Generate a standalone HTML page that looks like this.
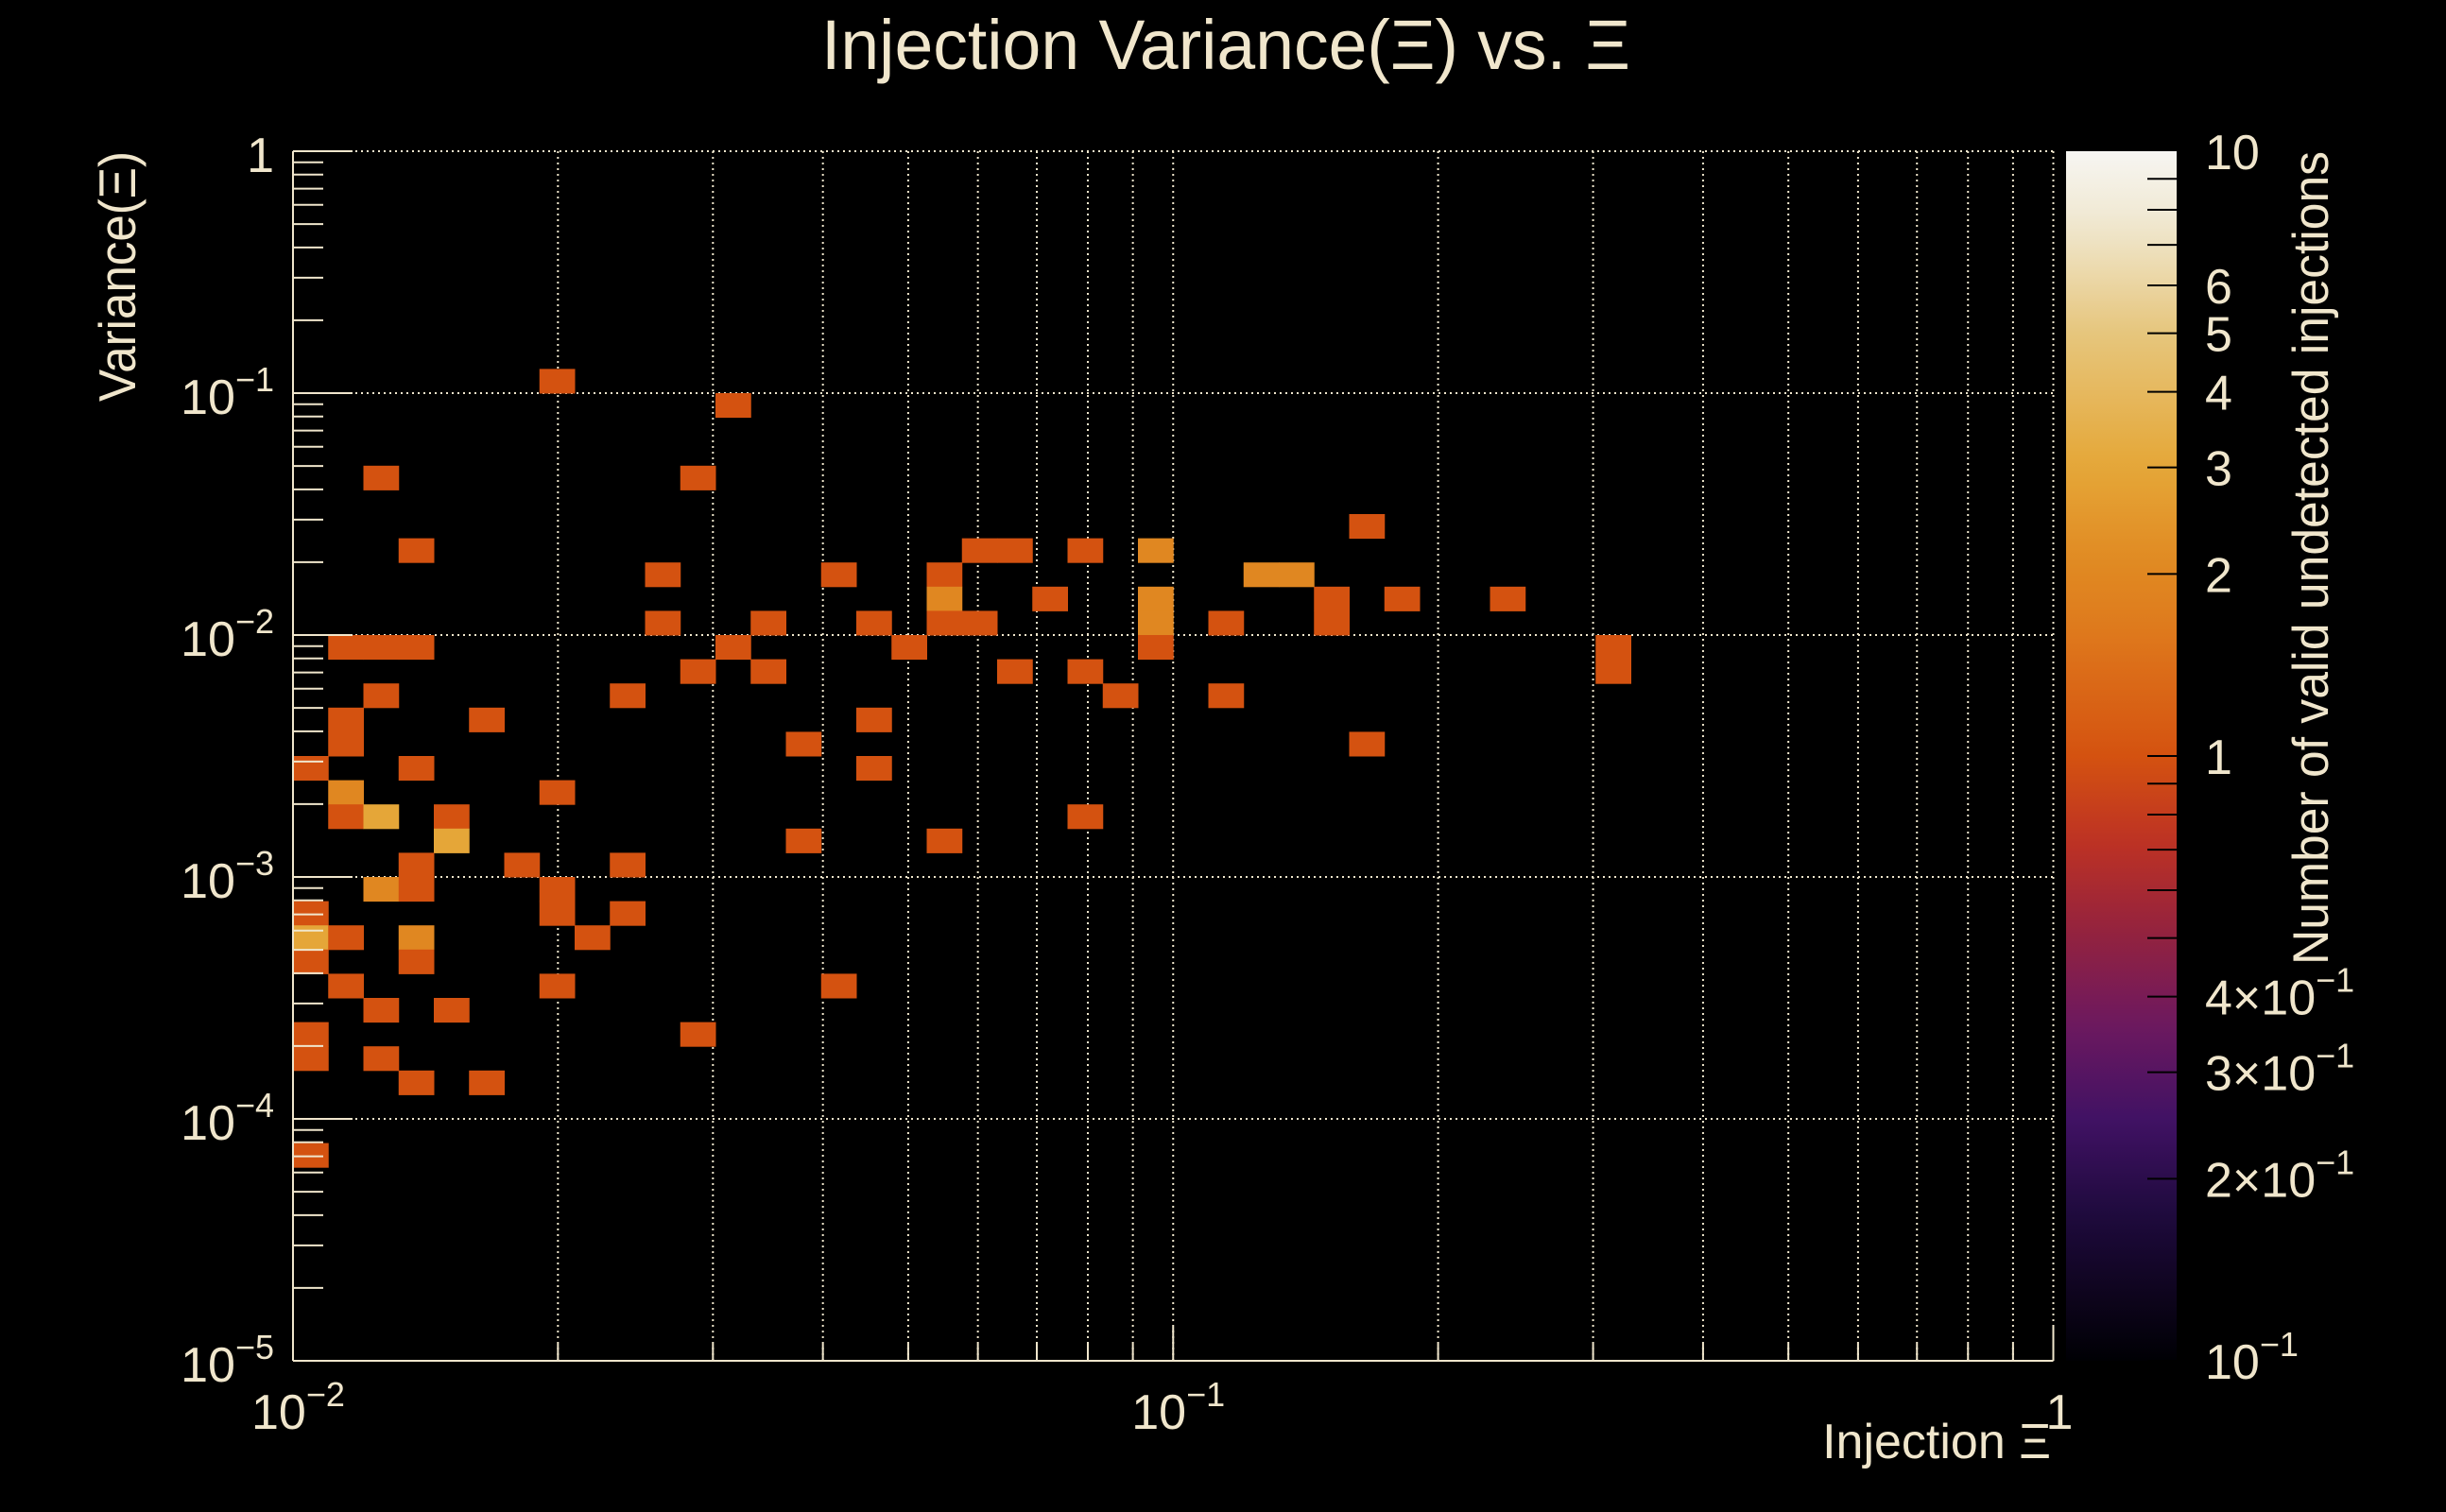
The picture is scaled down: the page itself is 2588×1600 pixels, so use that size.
<!DOCTYPE html>
<html><head><meta charset="utf-8"><title>Injection Variance vs Xi</title>
<style>
html,body{margin:0;padding:0;background:#000;}
svg{display:block;}
text{font-family:"Liberation Sans",sans-serif;fill:#f0e6cc;}
</style></head>
<body>
<svg id="chart" width="2588" height="1600" viewBox="0 0 2588 1600" xmlns="http://www.w3.org/2000/svg">
<rect x="0" y="0" width="2588" height="1600" fill="#000"/>
<defs>
<linearGradient id="pal" x1="0" y1="1" x2="0" y2="0"></linearGradient>
</defs>
<g id="grid"></g>
<g id="cells"></g>
<g id="axes"></g>
<g id="cbar"></g>
<text x="1297" y="73" text-anchor="middle" font-size="74" textLength="856" lengthAdjust="spacingAndGlyphs">Injection Variance(Ξ) vs. Ξ</text>
<text transform="translate(143,160) rotate(-90)" text-anchor="end" font-size="55" textLength="265" lengthAdjust="spacingAndGlyphs">Variance(Ξ)</text>
<text x="2170" y="1543" text-anchor="end" font-size="52">Injection Ξ</text>
<text transform="translate(2463,160) rotate(-90)" text-anchor="end" font-size="53" textLength="861" lengthAdjust="spacingAndGlyphs">Number of valid undetected injections</text>
</svg>
<script>
// Data: bin indices (x: 50 log bins over 1e-2..1, y: 50 log bins over 1e-5..1, row counted from top)
const cellXBin = [7,12,2,11,3,19,20,22,24,30,10,15,18,27,28,18,21,24,29,31,34,10,13,16,18,19,24,29,26,1,2,3,12,17,24,37,11,13,20,22,37,2,9,23,26,1,5,16,1,14,30,0,3,16,1,7,1,2,4,22,4,14,18,3,6,9,2,3,7,0,7,9,0,1,3,8,0,3,1,7,15,2,4,0,11,0,2,3,5,0];
const cellYRow = [9,10,13,13,16,16,16,16,16,15,17,17,17,17,17,18,18,18,18,18,18,19,19,19,19,19,19,19,19,20,20,20,20,20,20,20,21,21,21,21,21,22,22,22,22,23,23,23,24,24,24,25,25,25,26,26,27,27,27,27,28,28,28,29,29,29,30,30,30,31,31,31,32,32,32,32,33,33,34,34,34,35,35,36,36,37,37,38,38,41];
const cellCount = [1,1,1,1,1,1,1,1,2,1,1,1,1,2,2,2,1,2,1,1,1,1,1,1,1,1,2,1,1,1,1,1,1,1,1,1,1,1,1,1,1,1,1,1,1,1,1,1,1,1,1,1,1,1,2,1,1,3,1,1,3,1,1,1,1,1,2,1,1,1,1,1,3,1,2,1,1,1,1,1,1,1,1,1,1,1,1,1,1,1];
const xTickLabels = ["10","10","1"];
const xTickExp = ["−2","−1",""];
const yTickExp = ["","−1","−2","−3","−4","−5"];
const zTickValues = [10,6,5,4,3,2,1,0.4,0.3,0.2,0.1];
const zTickLabels = ["10","6","5","4","3","2","1","4×10","3×10","2×10","10"];
const zTickExp = ["","","","","","","","−1","−1","−1","−1"];

const NS="http://www.w3.org/2000/svg";
const PL=310, PR=2172.5, PT=160, PB=1440;
const CX0=2186, CX1=2303;
const XBIN=0.04, YBIN=0.1;
function xPix(lx){return PL+(lx+2)/2*(PR-PL);}
function yPix(ly){return PB-(ly+5)/5*(PB-PT);}
function zPix(v){return PB-(Math.log10(v)+1)/2*(PB-PT);}
const stops=[[0,[0,0,4]],[0.12,[30,10,60]],[0.2,[65,18,100]],[0.28,[110,25,95]],[0.36,[150,35,60]],[0.43,[190,50,35]],[0.5,[212,82,16]],[0.6,[222,120,28]],[0.66,[224,138,34]],[0.74,[229,167,56]],[0.85,[230,198,125]],[0.94,[240,232,208]],[1,[246,245,242]]];
function colorAt(t){t=Math.max(0,Math.min(1,t));for(let i=1;i<stops.length;i++){if(t<=stops[i][0]){const a=stops[i-1],b=stops[i];const f=(t-a[0])/(b[0]-a[0]);const c=a[1].map((v,k)=>Math.round(v+(b[1][k]-v)*f));return "rgb("+c.join(",")+")";}}return "rgb(246,245,242)";}
function zColor(v){return colorAt((Math.log10(v)+1)/2);}
function mk(tag,attrs,parent){const e=document.createElementNS(NS,tag);for(const k in attrs)e.setAttribute(k,attrs[k]);parent.appendChild(e);return e;}
const cream="#f0e6cc";
const grid=document.getElementById('grid'), cells=document.getElementById('cells'), axes=document.getElementById('axes'), cbar=document.getElementById('cbar');

for(let d=-2;d<0;d++){for(let m=1;m<=9;m++){const lx=d+Math.log10(m);if(m===1&&d===-2)continue;const x=xPix(lx);
 const l=mk('line',{x1:x,y1:PT,x2:x,y2:PB,stroke:cream,'stroke-width':2,'stroke-dasharray':'2 4'},grid);
 
 }}
{const l=mk('line',{x1:PR,y1:PT,x2:PR,y2:PB,stroke:cream,'stroke-width':2,'stroke-dasharray':'2 4'},grid);
 
 }
for(let d=-4;d<=0;d++){const y=yPix(d);
 const l=mk('line',{x1:PL,y1:y,x2:PR,y2:y,stroke:cream,'stroke-width':2,'stroke-dasharray':'2 4'},grid);
 
 }

for(let i=0;i<cellCount.length;i++){
 const lx0=-2+cellXBin[i]*XBIN, lx1=lx0+XBIN;
 const ly1=-cellYRow[i]*YBIN, ly0=ly1-YBIN;
 const x0=xPix(lx0),x1=xPix(lx1),y0=yPix(ly1),y1=yPix(ly0);
 const r=mk('rect',{x:x0,y:y0,width:x1-x0+0.5,height:y1-y0+0.5,fill:zColor(cellCount[i])},cells);
 
 
}

{const a=mk('line',{x1:PL,y1:PT,x2:PL,y2:PB,stroke:cream,'stroke-width':2},axes);


const b=mk('line',{x1:PL,y1:PB,x2:PR,y2:PB,stroke:cream,'stroke-width':2},axes);

}
for(let d=-5;d<=0;d++){for(let m=1;m<=9;m++){const ly=d+Math.log10(m);if(ly>0)break;const y=yPix(ly);
 const t=mk('line',{x1:PL,y1:y,x2:PL+(m===1?63:32),y2:y,stroke:cream,'stroke-width':2},axes);
 
 }}
for(let k=0;k<yTickExp.length;k++){const y=yPix(-k);
 const t=mk('text',{x:290,y:y+22,'text-anchor':'end','font-size':52},axes);
 
 
 if(k===0){t.textContent='1';}else{t.textContent='10';const s=mk('tspan',{dy:-24,'font-size':36},t);s.textContent=yTickExp[k];}}
for(let d=-2;d<=0;d++){for(let m=1;m<=9;m++){const lx=d+Math.log10(m);if(lx>0)break;const x=xPix(lx);
 const t=mk('line',{x1:x,y1:PB,x2:x,y2:PB-(m===1?36:18),stroke:cream,'stroke-width':2},axes);
 
 }}
for(let k=0;k<xTickLabels.length;k++){const x=xPix(-2+k);
 const t=mk('text',{x:k===2?x-8:x-44,y:1512,'font-size':52},axes);
 
 
 t.textContent=xTickLabels[k];
 if(xTickExp[k]){const s=mk('tspan',{dy:-24,'font-size':36},t);s.textContent=xTickExp[k];}}

const g=document.getElementById('pal');
for(let i=0;i<=40;i++){const t=i/40;const s=mk('stop',{offset:t,'stop-color':colorAt(t)},g);}
{const r=mk('rect',{x:CX0,y:PT,width:CX1-CX0,height:PB-PT,fill:'url(#pal)'},cbar);

}
for(let d=-1;d<1;d++){for(let m=1;m<=9;m++){const v=m*Math.pow(10,d);const y=zPix(v);
 const t=mk('line',{x1:CX1-31,y1:y,x2:CX1,y2:y,stroke:'#000','stroke-width':2},cbar);
 
 }}
for(let k=0;k<zTickValues.length;k++){const y=zPix(zTickValues[k]);
 const t=mk('text',{x:2333,y:y+19,'font-size':52},cbar);
 
 
 t.textContent=zTickLabels[k];
 if(zTickExp[k]){const s=mk('tspan',{dy:-24,'font-size':36},t);s.textContent=zTickExp[k];}}
</script>
</body></html>
